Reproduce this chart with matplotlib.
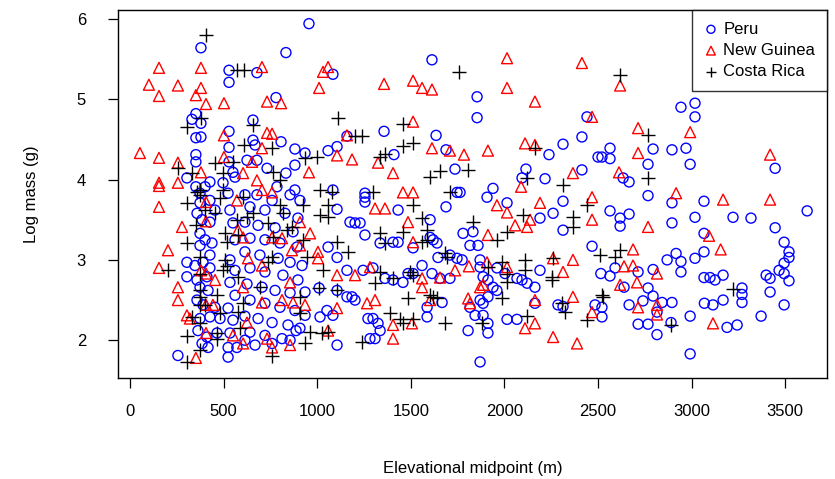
import matplotlib
matplotlib.use("Agg")
import matplotlib.pyplot as plt

plt.rcParams['font.family'] = ['Liberation Sans', 'DejaVu Sans']

# ---- Peru (blue circles) ----
peru_x = [379, 529, 529, 352, 331, 379, 529, 352, 379, 529, 352, 352, 304, 529, 550, 561, 497, 427, 401, 352,
          956, 833, 678, 1084, 780, 657, 1159, 657, 668, 807, 881, 935, 1058, 1106, 625, 678, 732, 881, 833, 1084, 785, 881,
          1106, 1058, 1106, 1159, 1010, 1106, 1015, 1052, 1084, 1106, 1175, 1202, 1159, 1186, 1202,
          614, 678, 759, 855, 908, 641, 721, 828, 897, 614, 684, 775, 871, 641, 721, 801, 892, 614, 694, 791, 855, 919,
          641, 721, 817, 897, 625, 705, 775, 855, 935, 641, 721, 801, 881, 935, 614, 684, 759, 844, 908, 641, 721, 812,
          887, 668, 759, 855, 614,
          374, 374, 427, 454, 358, 385, 427, 374, 401, 438, 374, 427, 304, 347, 390, 427, 304, 358, 411, 374, 417, 358,
          390, 454, 374, 427, 481, 363, 411, 465, 385, 417, 524, 534, 550, 561, 534, 561, 534, 561, 524, 550, 534, 524,
          524, 571, 256,
          1613, 1854, 1854, 1357, 1635, 1688, 1410, 1736, 1747, 1763, 1255,
          1255, 1255, 1432, 1688, 1603, 1255, 1229, 1603, 1619, 1640, 1405, 1432, 1512, 1336, 1779, 1832, 1816, 1859,
          1645, 1709, 1747, 1774, 1298, 1245, 1560, 1613, 1709, 1656, 1362, 1405, 1458, 1485, 1512, 1870, 1870, 1587,
          1667, 1816, 1843, 1271, 1298, 1325, 1336, 1282, 1309, 1587, 1806, 1870,
          2441, 2414, 2313, 2238, 2500, 2115, 2094, 2217, 2414, 1939,
          1907, 2014, 2313, 2190, 2260, 2313, 2468, 1960, 2003, 2067, 2094, 2121, 2163, 2190, 2515, 1886, 1912, 1939,
          1960, 1870, 1886, 1912, 2163, 2286, 2313, 2484, 2014, 2067, 1886, 1912, 1912,
          2943, 3018, 3018, 2564, 2521, 2564, 2794, 2895, 2970, 2767, 2992, 2634, 2666, 2767,
          2895, 3066, 2564, 2618, 2666, 2618, 3018, 2895, 3066, 2869, 2917, 2943, 2943, 3018, 3066, 2564, 2591, 2714,
          2794, 3066, 3098, 3125, 2639, 2767, 2794, 2740, 2666, 2842, 2895, 2521, 2521, 2815, 2714, 2767, 2815, 2890,
          2992, 3068, 3114, 2992,
          3446, 3617, 3221, 3317, 3446, 3494, 3520, 3520, 3494, 3467, 3494, 3520, 3398, 3419, 3168, 3269, 3269, 3269,
          3419, 3168, 3494, 3371, 3189, 3243]
peru_y = [5.64, 5.36, 5.21, 4.82, 4.75, 4.70, 4.60, 4.52, 4.53, 4.40, 4.31, 4.22, 4.02, 4.22, 4.09, 4.03, 3.96, 3.97, 3.91, 3.91,
          5.94, 5.58, 5.33, 5.31, 5.02, 4.74, 4.54, 4.49, 4.43, 4.47, 4.38, 4.33, 4.36, 4.41, 4.24, 4.24, 4.14, 4.18, 4.08, 3.87, 3.91, 3.87,
          3.63, 3.16, 3.03, 2.87, 2.65, 2.62, 2.29, 2.37, 2.31, 1.94, 3.47, 3.46, 2.54, 2.54, 2.50,
          3.81, 3.81, 3.74, 3.81, 3.74, 3.66, 3.62, 3.58, 3.52, 3.47, 3.43, 3.40, 3.35, 3.27, 3.25, 3.21, 3.16, 3.10, 3.06, 3.02, 2.97, 2.93,
          2.90, 2.85, 2.81, 2.75, 2.70, 2.66, 2.62, 2.59, 2.60, 2.50, 2.46, 2.41, 2.37, 2.31, 2.30, 2.27, 2.22, 2.19, 2.15, 2.10, 2.06, 2.02,
          2.12, 1.94, 1.96, 2.00, 2.00,
          3.83, 3.71, 3.74, 3.62, 3.58, 3.50, 3.47, 3.33, 3.25, 3.21, 3.18, 3.06, 2.97, 2.93, 2.97, 2.90, 2.79, 2.75, 2.79, 2.66, 2.62, 2.50,
          2.44, 2.41, 2.27, 2.29, 2.27, 2.12, 2.04, 2.09, 1.96, 1.91, 3.83, 3.62, 3.46, 3.25, 3.00, 2.87, 2.72, 2.56, 2.40, 2.25, 2.09, 1.91,
          1.79, 1.91, 1.81,
          5.49, 5.03, 4.77, 4.60, 4.55, 4.37, 4.31, 4.13, 3.84, 3.84, 3.83,
          3.78, 3.72, 3.62, 3.66, 3.50, 3.31, 3.46, 3.28, 3.25, 3.21, 3.22, 3.22, 3.15, 3.21, 3.33, 3.35, 3.18, 3.18,
          3.03, 3.06, 3.02, 3.00, 2.90, 2.87, 2.93, 2.83, 2.77, 2.77, 2.77, 2.75, 2.72, 2.83, 2.83, 2.91, 3.00, 2.41,
          2.47, 2.41, 2.31, 2.27, 2.27, 2.21, 2.12, 2.02, 2.02, 2.29, 2.12, 1.73,
          4.78, 4.53, 4.44, 4.31, 4.28, 4.13, 4.02, 4.01, 4.12, 3.89,
          3.78, 3.71, 3.73, 3.52, 3.58, 3.37, 3.17, 2.90, 2.83, 2.77, 2.75, 2.71, 2.66, 2.87, 2.83, 2.79, 2.75, 2.66,
          2.62, 2.50, 2.46, 2.54, 2.46, 2.44, 2.42, 2.44, 2.26, 2.26, 2.31, 2.21, 2.09,
          4.90, 4.95, 4.78, 4.39, 4.28, 4.26, 4.38, 4.37, 4.39, 4.19, 4.19, 4.02, 3.97, 3.80,
          3.71, 3.73, 3.61, 3.52, 3.57, 3.42, 3.53, 3.46, 3.33, 3.00, 3.08, 2.98, 2.85, 3.02, 3.10, 2.80, 2.90, 2.85,
          2.88, 2.78, 2.78, 2.75, 2.66, 2.65, 2.55, 2.49, 2.44, 2.47, 2.47, 2.41, 2.29, 2.35, 2.20, 2.20, 2.07, 2.22,
          2.30, 2.46, 2.44, 1.83,
          4.14, 3.61, 3.53, 3.52, 3.40, 3.22, 3.10, 3.03, 2.96, 2.87, 2.83, 2.74, 2.81, 2.77, 2.81, 2.65, 2.57, 2.47,
          2.60, 2.50, 2.44, 2.30, 2.16, 2.19]

# ---- New Guinea (red triangles) ----
ng_x = [155, 379, 101, 256, 379, 352, 155, 406, 502, 502, 53, 155, 502, 256, 379, 155, 155, 256,
        155, 406, 278, 406, 203, 155, 379, 406, 454, 256, 256, 304, 320, 406, 443, 406, 550, 352, 571, 577,
        705, 1031, 1058, 1010, 732, 807, 1159, 732, 759, 705, 1106, 1186, 652, 956, 604, 678, 759, 705,
        908, 962, 1004, 1004, 1106, 1202, 812, 871, 935, 705, 1106, 1058, 732, 759, 855, 604, 630, 705, 759, 812,
        865, 908, 855, 625, 604, 604,
        1357, 1512, 1560, 1613, 1512, 1613, 1709, 1784, 1325, 1405, 1458, 1512,
        1309, 1362, 1485, 1512, 1736, 1810, 1282, 1560, 1560, 1656, 1870, 1603, 1266, 1309, 1806, 1816, 1405, 1506, 1405,
        2014, 2414, 2014, 2163, 2468, 1912, 2110, 2163, 2366, 2089,
        1960, 2014, 2190, 2468, 2137, 2121, 2057, 2468, 1912, 1907, 2014, 2260, 2366, 2313, 1886, 2163, 2366, 2468,
        2163, 2110, 2260, 2388,
        2618, 2992, 2714, 2714, 2612, 2917,
        2767, 3093, 2687, 2639, 2687, 2618, 2708, 2815, 2714, 2815, 2815, 3114, 3155,
        3419, 3168, 3419]
ng_y = [5.39, 5.39, 5.18, 5.17, 5.14, 5.05, 5.04, 4.94, 4.95, 4.55, 4.33, 4.27, 4.28, 4.21, 4.09, 3.96, 3.92, 3.96,
        3.66, 3.72, 3.41, 3.48, 3.12, 2.90, 2.87, 2.83, 2.75, 2.66, 2.50, 2.31, 2.27, 2.44, 2.44, 2.09, 2.06, 1.78, 3.74, 3.37,
        5.40, 5.34, 5.40, 5.14, 4.97, 4.95, 4.55, 4.58, 4.57, 4.39, 4.30, 4.25, 4.22, 4.09, 4.08, 3.99, 3.84, 3.87,
        3.47, 3.33, 3.10, 3.02, 2.81, 2.81, 2.50, 2.47, 2.44, 2.47, 2.40, 2.12, 2.02, 1.91, 1.94, 3.28, 3.02, 2.93, 3.28, 3.27,
        3.12, 3.18, 2.72, 2.22, 1.96, 2.66,
        5.19, 5.23, 5.14, 5.12, 4.72, 4.39, 4.36, 4.31, 4.21, 4.08, 3.84, 3.84,
        3.64, 3.64, 3.47, 3.22, 2.87, 2.92, 2.91, 2.77, 2.66, 2.78, 2.66, 2.50, 2.46, 2.50, 2.52, 2.46, 2.19, 2.21, 2.02,
        5.51, 5.45, 5.14, 4.97, 4.78, 4.36, 4.45, 4.43, 4.08, 3.91,
        3.68, 3.59, 3.71, 3.78, 3.50, 3.41, 3.43, 3.50, 3.31, 2.97, 2.91, 3.02, 3.00, 2.85, 2.69, 2.50, 2.54, 2.35,
        2.21, 2.15, 2.04, 1.96,
        5.17, 4.59, 4.64, 4.33, 4.09, 3.83,
        3.41, 3.30, 3.13, 2.92, 2.93, 2.69, 2.72, 2.83, 2.41, 2.44, 2.32, 2.21, 3.13,
        4.31, 3.75, 3.75]

# ---- Costa Rica (black crosses) ----
cr_x = [406, 571, 379, 304, 454, 256, 331, 550, 497, 374, 497, 358,
        304, 374, 352, 304, 203, 374, 374, 374, 374, 374, 331, 401, 374, 304, 304, 374, 465, 465, 481, 507, 518,
        507, 518, 497, 465, 481, 454, 401, 571, 577, 577, 577, 588,
        609, 657, 1111, 1202, 609, 759, 935, 999, 764, 801, 1015, 1079,
        1058, 1015, 1058, 924, 1106, 1165, 1031, 1010, 1106, 1026, 1058, 935, 759, 962, 604, 625, 657, 737, 764,
        839, 737, 759, 694, 604, 908, 908, 801, 817, 865, 924, 946,
        1758, 1458, 1239, 1458, 1512, 1336, 1362, 1603, 1656, 1806, 1298, 1709,
        1512, 1560, 1832, 1336, 1458, 1587, 1362, 1560, 1587, 1683, 1694, 1336, 1405, 1309, 1496, 1512, 1603, 1619,
        1640, 1485, 1389, 1442, 1458, 1512, 1683, 1239,
        2163, 2121, 2313,
        2441, 2099, 2366, 2366, 2014, 1960, 1987, 2110, 2110, 2260, 1912, 2014, 2014, 2254, 2254, 1987, 2307, 2324,
        2441, 2121, 1880,
        2618, 2767, 2767,
        2618, 2591, 2511, 2521, 2527, 2890,
        3221]
cr_y = [5.80, 5.36, 4.77, 4.65, 4.21, 4.14, 4.08, 4.22, 4.08, 3.87, 3.87, 3.84,
        3.71, 3.81, 3.43, 3.21, 2.88, 3.03, 2.83, 2.62, 2.54, 2.44, 2.29, 2.44, 2.21, 2.05, 1.73, 1.88, 2.09, 2.02, 3.77, 3.33, 3.22,
        3.00, 2.93, 2.87, 2.56, 2.34, 3.58, 3.62, 3.50, 3.31, 2.79, 2.35, 2.15,
        5.36, 4.68, 4.77, 4.54, 4.43, 4.39, 4.27, 4.28, 4.09, 3.99, 3.87, 3.84,
        3.68, 3.56, 3.53, 3.68, 3.22, 3.10, 2.87, 2.65, 2.62, 2.09, 2.10, 1.96, 1.81, 2.10, 3.78, 3.53, 3.58, 3.46, 3.28,
        3.37, 2.97, 3.03, 2.66, 2.46, 2.54, 2.34, 3.68, 3.58, 3.41, 3.25, 3.03,
        5.34, 4.69, 4.54, 4.42, 4.45, 4.28, 4.32, 4.03, 4.11, 4.12, 3.84, 3.84,
        3.68, 3.52, 3.47, 3.33, 3.35, 3.37, 3.21, 3.22, 3.25, 3.08, 3.03, 2.85, 2.78, 2.71, 2.85, 2.81, 2.56, 2.54,
        2.52, 2.52, 2.34, 2.27, 2.21, 2.27, 2.22, 1.98,
        4.39, 4.02, 3.93,
        3.68, 3.56, 3.53, 3.41, 3.35, 3.25, 2.97, 3.00, 2.87, 3.02, 2.91, 2.83, 2.72, 2.79, 2.75, 2.52, 2.46, 2.35,
        2.25, 2.30, 2.21,
        5.30, 4.55, 4.02,
        3.12, 3.03, 3.06, 2.56, 2.54, 2.19,
        2.64]

x_ticks = [0, 500, 1000, 1500, 2000, 2500, 3000, 3500]
y_ticks = [2, 3, 4, 5, 6]
series_labels = ["Peru", "New Guinea", "Costa Rica"]

W, H = 835, 479
fig = plt.figure(figsize=(W / 100, H / 100), dpi=100)
ax = fig.add_axes([118 / W, 1 - 378 / H, (827 - 118) / W, (378 - 10) / H])

ax.scatter(peru_x, peru_y, s=52, marker='o', facecolors='none', edgecolors='#0000FF',
           linewidths=1.0, label=series_labels[0], zorder=3)
ax.scatter(ng_x, ng_y, s=62, marker='^', facecolors='none', edgecolors='#FF0000',
           linewidths=1.0, label=series_labels[1], zorder=3)
ax.scatter(cr_x, cr_y, s=90, marker='+', color='black',
           linewidths=1.0, label=series_labels[2], zorder=4)

ax.set_xlim(-64, 3723)
ax.set_ylim(1.53, 6.11)
ax.set_xticks(x_ticks)
ax.set_yticks(y_ticks)
ax.tick_params(direction='out', length=7, width=0.9, labelsize=12, colors='black')
ax.tick_params(axis='x', pad=12)
ax.tick_params(axis='y', pad=16)
for s in ax.spines.values():
    s.set_linewidth(1.0)
    s.set_color('black')

ax.set_xlabel("Elevational midpoint (m)", fontsize=12, labelpad=30)
ax.set_ylabel("Log mass (g)", fontsize=12, labelpad=27)

leg = ax.legend(loc='upper right', fontsize=12, frameon=True, fancybox=False,
                borderaxespad=0, handletextpad=0.3, labelspacing=0.38,
                borderpad=0.7, handlelength=0.9, markerscale=0.8)
leg.get_frame().set_edgecolor('black')
leg.get_frame().set_linewidth(1.0)

fig.savefig("out.png", dpi=100)
